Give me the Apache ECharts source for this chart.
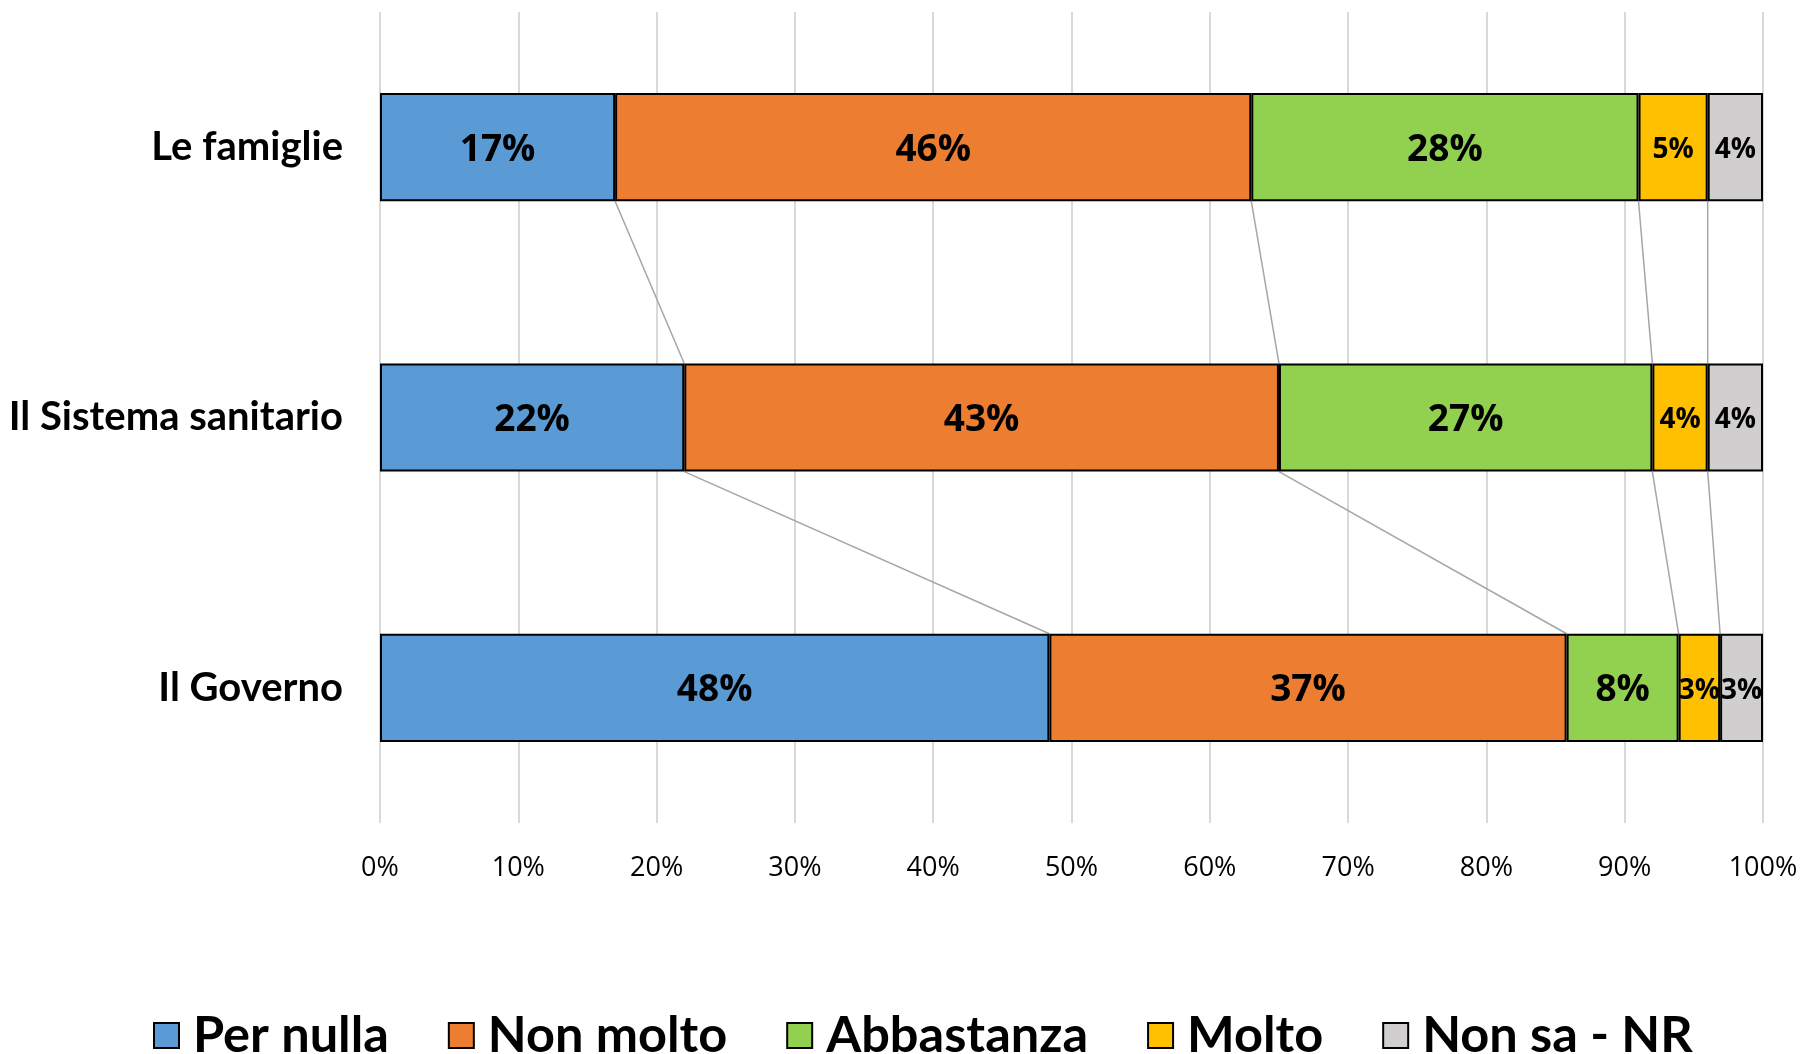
<!DOCTYPE html>
<html>
<head>
<meta charset="utf-8">
<script src="https://cdn.jsdelivr.net/npm/echarts@6/dist/echarts.min.js"></script>
<style>
  html, body { margin: 0; padding: 0; background: #ffffff; }
  #chart { width: 1804px; height: 1054px; }
</style>
</head>
<body>
<div id="chart"></div>
<script>
// Categories, top to bottom
var categories = ['Le famiglie', 'Il Sistema sanitario', 'Il Governo'];

// Share of answers per category (%)
var perNulla   = [17.0, 22.0, 48.4];
var nonMolto   = [46.0, 43.0, 37.4];
var abbastanza = [28.0, 27.0, 8.1];
var molto      = [5.0, 4.0, 3.0];
var nonSa      = [4.0, 4.0, 3.1];

var seriesNames = ['Per nulla', 'Non molto', 'Abbastanza', 'Molto', 'Non sa - NR'];
var seriesColors = ['#5B9BD5', '#ED7D31', '#92D050', '#FFC000', '#D0CECE'];

// Value-axis ticks
var xTickValues = [0, 10, 20, 30, 40, 50, 60, 70, 80, 90, 100];

var allSeries = [perNulla, nonMolto, abbastanza, molto, nonSa];
var BAR_RATIO = 0.4;

// Cumulative boundaries between segments for each category
function cumulative(catIndex) {
  var out = [];
  var sum = 0;
  for (var s = 0; s < allSeries.length - 1; s++) {
    sum += allSeries[s][catIndex];
    out.push(sum);
  }
  return out;
}

// Series lines joining the segment boundaries of adjacent bars
var connectorData = [];
for (var c = 0; c < categories.length - 1; c++) {
  var upper = cumulative(c);
  var lower = cumulative(c + 1);
  for (var k = 0; k < upper.length; k++) {
    connectorData.push([c, upper[k], lower[k]]);
  }
}

var chart = echarts.init(document.getElementById('chart'), null, { renderer: 'canvas' });

var barSeries = seriesNames.map(function (name, i) {
  var small = i >= 3;
  return {
    name: name,
    type: 'bar',
    stack: 'total',
    barWidth: (BAR_RATIO * 100) + '%',
    data: allSeries[i],
    itemStyle: { color: seriesColors[i], borderColor: '#000000', borderWidth: 2 },
    label: {
      show: true,
      position: 'inside',
      offset: [0, 3],
      color: '#000000',
      fontFamily: 'Open Sans',
      fontWeight: 'bold',
      fontSize: small ? 28 : 37,
      formatter: function (p) { return Math.round(p.value) + '%'; }
    },
    emphasis: { disabled: true },
    z: 3
  };
});

var connectorSeries = {
  type: 'custom',
  name: 'connectors',
  silent: true,
  z: 2,
  data: connectorData,
  renderItem: function (params, api) {
    var cat = api.value(0);
    var bandH = api.size([0, 1])[1];
    var half = bandH * BAR_RATIO / 2;
    var p1 = api.coord([api.value(1), cat]);
    var p2 = api.coord([api.value(2), cat + 1]);
    return {
      type: 'line',
      shape: { x1: p1[0], y1: p1[1] + half, x2: p2[0], y2: p2[1] - half },
      style: { stroke: '#A6A6A6', lineWidth: 1.5 }
    };
  },
  encode: { x: [1, 2], y: 0 }
};

chart.setOption({
  backgroundColor: '#ffffff',
  animation: false,
  grid: { left: 380, right: 41, top: 12, bottom: 231, containLabel: false },
  legend: {
    data: seriesNames,
    top: 1005,
    left: 148,
    itemWidth: 25,
    itemHeight: 25,
    itemGap: 59,
    icon: 'rect',
    textStyle: {
      fontFamily: 'Lato',
      fontWeight: 'bold',
      fontSize: 50.5,
      color: '#000000',
      padding: [0, 0, 0, 9]
    }
  },
  xAxis: {
    type: 'value',
    min: 0,
    max: 100,
    interval: 10,
    axisLine: { show: false },
    axisTick: { show: false },
    splitLine: { show: true, lineStyle: { color: '#D9D9D9', width: 2 } },
    axisLabel: {
      margin: 32,
      fontFamily: 'Open Sans',
      fontSize: 27,
      color: '#000000',
      formatter: function (v) { return xTickValues.indexOf(v) >= 0 ? v + '%' : ''; }
    }
  },
  yAxis: {
    type: 'category',
    inverse: true,
    data: categories,
    axisLine: { show: false },
    axisTick: { show: false },
    axisLabel: {
      margin: 37,
      fontFamily: 'Lato',
      fontWeight: 'bold',
      fontSize: 40,
      color: '#000000'
    }
  },
  series: barSeries.concat([connectorSeries])
});
</script>
</body>
</html>
